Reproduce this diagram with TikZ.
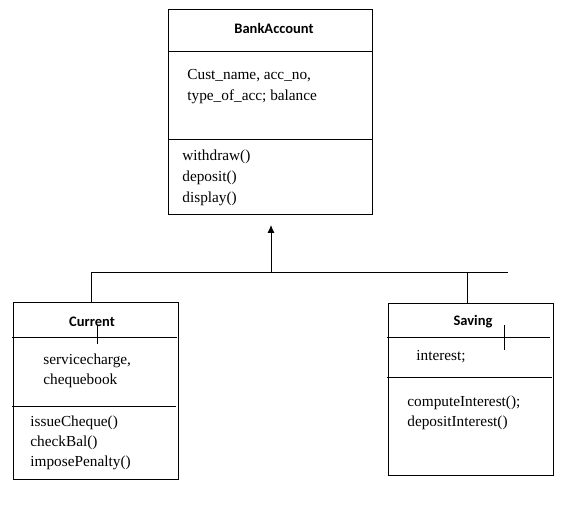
\documentclass[tikz,border=0pt]{standalone}
\usepackage{fontspec}
\setmainfont{Liberation Serif}
\newfontfamily\titlefont{Carlito}
\usetikzlibrary{arrows.meta}
\begin{document}
\begin{tikzpicture}[x=1pt,y=-1pt,line width=0.8pt,
  umlbox/.style={draw,rectangle,anchor=north west,inner sep=0pt},
  title/.style={font=\titlefont\bfseries\fontsize{14.5}{16}\selectfont,inner sep=0pt},
  txt/.style={font=\fontsize{15.3}{17}\selectfont,anchor=base west,inner sep=0pt}]
\useasboundingbox[fill=white] (0,0) rectangle (568,505);
% BankAccount
\node[umlbox,minimum width=204pt,minimum height=205pt] (bank) at (168,9) {};
\draw (168,51) -- (372,51);
\draw (168,139) -- (372,139);
\node[title] (bt) at (274,28) {BankAccount};
\node[txt] (ba1) at (187,80) {Cust\_name, acc\_no,};
\node[txt] (ba2) at (187,101) {type\_of\_acc; balance};
\node[txt] (bm1) at (182,161) {withdraw()};
\node[txt] (bm2) at (182,182) {deposit()};
\node[txt] (bm3) at (182,203) {display()};
% Current
\node[umlbox,minimum width=165pt,minimum height=177pt] (cur) at (13,302) {};
\draw (12,337) -- (177,337);
\draw (12,406) -- (176,406);
\node[title] (ct) at (92,322) {Current};
\draw (97,325) -- (97,344);
\node[txt] (ca1) at (43,364) {servicecharge,};
\node[txt] (ca2) at (43,384) {chequebook};
\node[txt] (cm1) at (30,426) {issueCheque()};
\node[txt] (cm2) at (30,446) {checkBal()};
\node[txt] (cm3) at (30,466) {imposePenalty()};
% Saving
\node[umlbox,minimum width=165pt,minimum height=172pt] (sav) at (388,303) {};
\draw (387,337) -- (550,337);
\draw (387,377) -- (552,377);
\node[title] (st) at (473,322) {Saving};
\draw (504,325) -- (504,350);
\node[txt] (sa1) at (416,360) {interest;};
\node[txt] (sm1) at (407,406) {computeInterest();};
\node[txt] (sm2) at (407,426) {depositInterest()};
% connectors
\coordinate (jl) at (91,272);
\coordinate (jm) at (271,272);
\coordinate (jr) at (508,272);
\coordinate (arrowend) at (271,225);
\draw (jl) -- (jr);
\draw[-{Latex[length=8pt,width=7pt]}] (jm) -- (arrowend);
\draw (jl) -- (jl |- cur.north);
\draw (467,272) -- (467,303);
\end{tikzpicture}
\end{document}
